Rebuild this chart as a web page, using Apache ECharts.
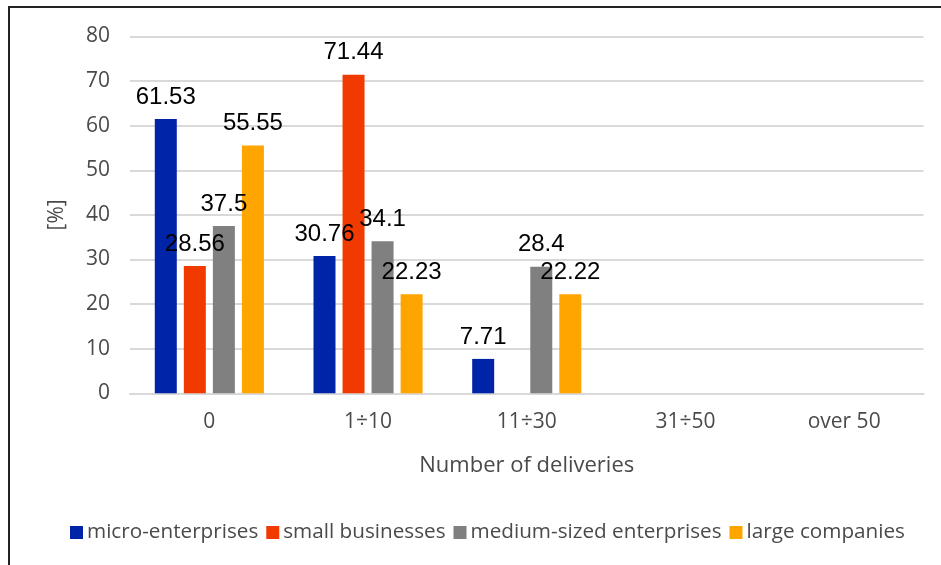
<!DOCTYPE html>
<html>
<head>
<meta charset="utf-8">
<script src="https://cdn.jsdelivr.net/npm/echarts@6/dist/echarts.min.js"></script>
<style>
html,body{margin:0;padding:0;background:#fff;overflow:hidden;}
#wrap{position:relative;width:941px;height:565px;overflow:hidden;}
#frame{position:absolute;left:8px;top:6px;width:1000px;height:1000px;border:2px solid #222;box-sizing:border-box;}
#main{position:absolute;left:0;top:0;width:941px;height:565px;}
</style>
</head>
<body>
<div id="wrap"><div id="frame"></div><div id="main"></div></div>
<script>
const categories = ['0', '1÷10', '11÷30', '31÷50', 'over 50'];
const seriesNames = ['micro-enterprises', 'small businesses', 'medium-sized enterprises', 'large companies'];
const microValues = [61.53, 30.76, 7.71, null, null];
const smallValues = [28.56, 71.44, null, null, null];
const mediumValues = [37.5, 34.1, 28.4, null, null];
const largeValues = [55.55, 22.23, 22.22, null, null];
const yTicks = [0, 10, 20, 30, 40, 50, 60, 70, 80];

const colors = ['#0024a8', '#f03a00', '#808080', '#ffa500'];
const valueSets = [microValues, smallValues, mediumValues, largeValues];

const chart = echarts.init(document.getElementById('main'), null, {renderer: 'canvas'});
const axisFont = '"Open Sans", sans-serif';
const textColor = '#4a4a4a';
chart.setOption({
  animation: false,
  color: colors,
  grid: {left: 130, right: 17.5, top: 36.5, bottom: 171.7, containLabel: false},
  legend: {
    data: seriesNames,
    bottom: 17,
    left: 65,
    itemWidth: 13,
    itemHeight: 13,
    itemGap: 8,
    icon: 'rect',
    textStyle: {color: textColor, fontSize: 20.7, fontFamily: axisFont, padding: [0,0,0,-1]}
  },
  xAxis: {
    type: 'category',
    data: categories,
    name: 'Number of deliveries',
    nameLocation: 'middle',
    nameGap: 61,
    nameTextStyle: {color: textColor, fontSize: 22, fontFamily: axisFont},
    axisLine: {show: true, lineStyle: {color: '#d9d9d9', width: 2}},
    axisTick: {show: false},
    axisLabel: {color: textColor, fontSize: 21, fontFamily: axisFont, margin: 18}
  },
  yAxis: {
    type: 'value',
    min: yTicks[0],
    max: yTicks[yTicks.length - 1],
    interval: 10,
    name: '[%]',
    nameLocation: 'middle',
    nameGap: 62,
    nameRotate: 90,
    nameTextStyle: {color: textColor, fontSize: 21, fontFamily: axisFont},
    axisLine: {show: false},
    axisTick: {show: false},
    axisLabel: {color: textColor, fontSize: 21, fontFamily: axisFont, margin: 20},
    splitLine: {lineStyle: {color: '#d9d9d9', width: 2}}
  },
  series: seriesNames.map((name, i) => ({
    name: name,
    type: 'bar',
    data: valueSets[i],
    barWidth: 22,
    barGap: '32%',
    itemStyle: {color: colors[i]},
    label: {
      show: true,
      position: 'top',
      distance: 10,
      color: '#000',
      fontSize: 24,
      fontFamily: '"Liberation Sans", Arial, sans-serif',
      formatter: p => (p.value == null ? '' : String(p.value))
    }
  }))
});
</script>
</body>
</html>
